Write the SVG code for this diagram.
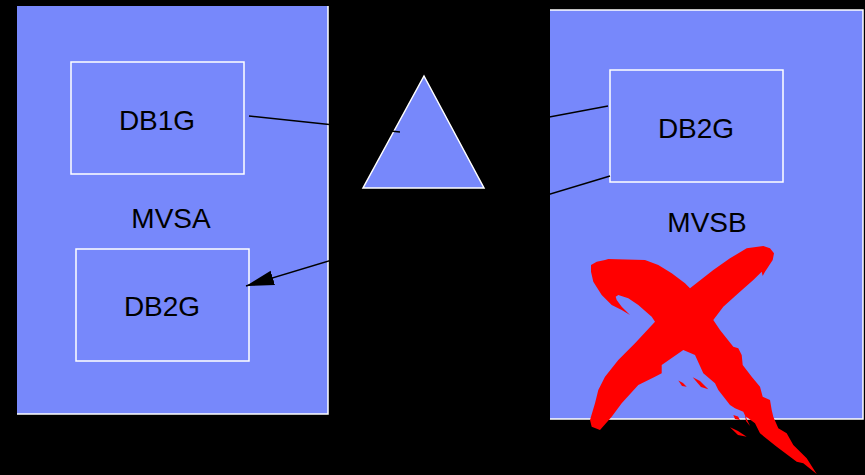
<svg xmlns="http://www.w3.org/2000/svg" width="865" height="475" viewBox="0 0 865 475">
  <style>
    .sys { fill: #7788fb; }
    .edge { fill: none; stroke: #ffffff; stroke-width: 1.5; }
    .box { fill: #7788fb; stroke: #ffffff; stroke-width: 1.5; }
    .lbl { font-family: "Liberation Sans", Arial, sans-serif; font-size: 28px; fill: #000000; text-anchor: middle; }
    .link { fill: none; stroke: #000000; stroke-width: 1.5; }
    .cross { fill: #ff0000; }
  </style>
  <defs>
    <marker id="arrowhead" markerUnits="userSpaceOnUse" markerWidth="30" markerHeight="18" refX="28" refY="0" viewBox="0 -9 30 18" orient="auto">
      <path d="M0,-7.5 L28,0 L0,7.5 z" fill="#000000"/>
    </marker>
  </defs>
  <rect width="865" height="475" fill="#000000"/>

  <!-- system A -->
  <g id="mvsa">
    <rect class="sys" x="17" y="6" width="311" height="408"/>
    <polyline class="edge" points="328,6 328,414 17,414"/>
    <text class="lbl" x="171" y="228">MVSA</text>
  </g>
  <g id="mvsa-db1g">
    <rect class="box" x="71" y="62" width="173" height="112"/>
    <text class="lbl" x="157" y="130">DB1G</text>
  </g>
  <g id="mvsa-db2g">
    <rect class="box" x="76" y="249" width="173" height="112"/>
    <text class="lbl" x="162" y="316">DB2G</text>
  </g>

  <!-- system B -->
  <g id="mvsb">
    <rect class="sys" x="550" y="10" width="313" height="409"/>
    <polyline class="edge" points="550,10 863,10 863,419 550,419"/>
    <text class="lbl" x="707" y="232">MVSB</text>
  </g>
  <g id="mvsb-db2g">
    <rect class="box" x="610" y="70" width="173" height="112"/>
    <text class="lbl" x="696" y="138">DB2G</text>
  </g>

  <!-- coupling facility -->
  <g id="cf">
    <polygon class="box" points="424,76 484,188 363,188"/>
  </g>

  <!-- connectors -->
  <g id="links">
    <line class="link" x1="249" y1="116" x2="400" y2="132"/>
    <line class="link" x1="608" y1="106" x2="480" y2="130"/>
    <line class="link" x1="610" y1="176" x2="246" y2="286" marker-end="url(#arrowhead)"/>
  </g>

  <!-- failure mark over system B -->
  <g id="failed">
    <path class="cross" d="M591,265 L596.7,261.7 L605,260 L608.3,259 L645,260 L658.3,265 L671.7,273.3 L685,283.3 L690,288.3
      L713.3,270 L730,258.3 L746.7,248.3 L763.3,246 L770,248.3 L774,253.3 L772.7,260 L768.3,266.7 L765,271.7 L762.7,276 L761.7,271.7 L753.3,280 L738.3,293.3 L723.3,306.7 L713.3,320
      L720,330 L733.3,346.7 L738.3,348.3 L741.7,355 L742.7,365 L751.7,376.7 L760,386.7 L762.7,396.7 L770,400 L771.7,410 L773.3,416.7 L778.3,428.3 L786.7,433.3 L793.3,445 L806.7,458.3 L816.7,474
      L803.3,463.3 L796.7,461.7 L776.7,446.7 L760,433.3 L755,423.3 L748,418 L745,416 L746,421 L750,426 L743.3,411.7 L735,408.3 L730,405 L718.3,390 L715,383.3 L703.3,373.3 L695,355 L683.3,350
      L661.7,365 L661.7,373.3 L655,376.7 L638.3,385 L621.7,403.3 L611.7,416.7 L600,430 L591.7,426.7 L590,420 L595,403.3 L598.3,390 L605,376.7 L618.3,360 L635,343.3 L655,321.7
      L651.7,316.7 L638.3,305 L628.3,298.3 L618.3,295 L615.7,296.7 L616.7,300 L621.7,306.7 L630,315 L621.7,310 L611.7,305 L601.7,295 L593.3,281.7 L591,271.7 Z"/>
    <path class="cross" d="M678.3,380.5 L683,383 L686.7,386.7 L682,386 Z"/>
    <path class="cross" d="M692.7,377.3 L700,381 L708.3,389.3 L701,387 Z"/>
    <path class="cross" d="M733.3,415 L738,416.5 L740,420 L735,419 Z"/>
    <path class="cross" d="M730,427.3 L738,431 L746.7,436.7 L738,435 Z"/>
  </g>
</svg>
